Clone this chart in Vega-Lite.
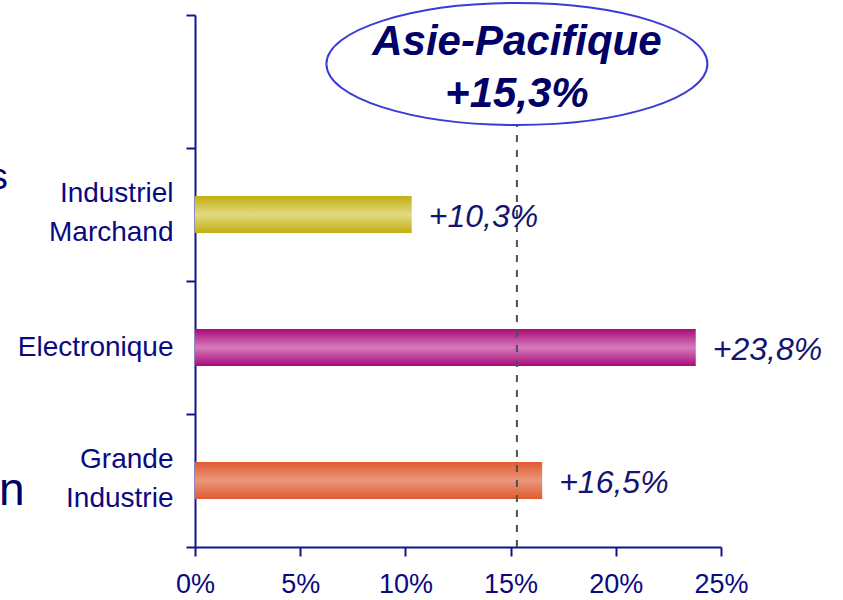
{
  "$schema": "https://vega.github.io/schema/vega-lite/v6.json",
  "width": 526,
  "height": 532,
  "autosize": {"type": "none"},
  "padding": {"left": 195, "top": 15, "right": 122, "bottom": 53},
  "background": "white",
  "config": {
    "view": {"stroke": null},
    "font": "Liberation Sans",
    "axisX": {
      "grid": false, "domainColor": "#14148a", "domainWidth": 2, "tickColor": "#14148a", "tickWidth": 2, "tickSize": 9,
      "labelFontSize": 27, "labelColor": "#0a0a80", "labelPadding": 15, "labelFont": "Liberation Sans", "labelFlush": false
    },
    "axisY": {
      "grid": false, "domainColor": "#14148a", "domainWidth": 2, "tickColor": "#14148a", "tickWidth": 2, "tickSize": 9,
      "labelFontSize": 28, "labelColor": "#0a0a80", "labelPadding": 13, "labelFont": "Liberation Sans", "labelLimit": 300,
      "labelLineHeight": 39, "labelAlign": "right", "labelBaseline": "middle", "tickBand": "extent"
    }
  },
  "datasets": {
    "bars": [
      {"segment": "Industriel Marchand", "growth": 10.3, "label": "+10,3%"},
      {"segment": "Electronique", "growth": 23.8, "label": "+23,8%"},
      {"segment": "Grande Industrie", "growth": 16.5, "label": "+16,5%"}
    ],
    "region": [
      {"segment": "top", "growth": 15.3, "label": "Asie-Pacifique\n+15,3%"}
    ],
    "cutS": [{"segment": "Industriel Marchand", "pos": -8.9, "label": "s"}],
    "cutN": [{"segment": "Grande Industrie", "pos": -8.1, "label": "n"}]
  },
  "layer": [
    {
      "data": {"name": "bars"},
      "transform": [{"filter": "datum.segment == 'Industriel Marchand'"}],
      "mark": {"type": "bar", "height": {"band": 0.28},
        "color": {"gradient": "linear", "x1": 0, "y1": 0, "x2": 0, "y2": 1,
          "stops": [{"offset": 0, "color": "#c2ae12"}, {"offset": 0.5, "color": "#e2da80"}, {"offset": 1, "color": "#c2ae12"}]}},
      "encoding": {
        "x": {"field": "growth", "type": "quantitative", "scale": {"domain": [0, 25], "nice": false},
          "axis": {"title": null, "values": [0, 5, 10, 15, 20, 25], "labelExpr": "datum.value + '%'"}},
        "y": {"field": "segment", "type": "nominal",
          "scale": {"domain": ["top", "Industriel Marchand", "Electronique", "Grande Industrie"], "paddingInner": 0, "paddingOuter": 0},
          "axis": {"title": null,
            "labelOffset": {"condition": {"test": "datum.value == 'Electronique'", "value": 0}, "value": -21.5},
            "labelExpr": "datum.value == 'Industriel Marchand' ? ['Industriel', 'Marchand'] : datum.value == 'Grande Industrie' ? ['Grande', 'Industrie'] : datum.value == 'top' ? '' : datum.value"}}
      }
    },
    {
      "data": {"name": "bars"},
      "transform": [{"filter": "datum.segment == 'Electronique'"}],
      "mark": {"type": "bar", "height": {"band": 0.28},
        "color": {"gradient": "linear", "x1": 0, "y1": 0, "x2": 0, "y2": 1,
          "stops": [{"offset": 0, "color": "#a80a78"}, {"offset": 0.5, "color": "#d67abc"}, {"offset": 1, "color": "#a80a78"}]}},
      "encoding": {
        "x": {"field": "growth", "type": "quantitative"},
        "y": {"field": "segment", "type": "nominal"}
      }
    },
    {
      "data": {"name": "bars"},
      "transform": [{"filter": "datum.segment == 'Grande Industrie'"}],
      "mark": {"type": "bar", "height": {"band": 0.28},
        "color": {"gradient": "linear", "x1": 0, "y1": 0, "x2": 0, "y2": 1,
          "stops": [{"offset": 0, "color": "#e05a30"}, {"offset": 0.5, "color": "#ea987c"}, {"offset": 1, "color": "#e05a30"}]}},
      "encoding": {
        "x": {"field": "growth", "type": "quantitative"},
        "y": {"field": "segment", "type": "nominal"}
      }
    },
    {
      "data": {"name": "region"},
      "mark": {"type": "rule", "color": "#505050", "strokeWidth": 2, "strokeDash": [7, 8], "y2Offset": 7},
      "encoding": {
        "x": {"field": "growth", "type": "quantitative"}
      }
    },
    {
      "data": {"name": "region"},
      "mark": {"type": "point", "shape": "M-1,0A1,0.32,0,1,1,1,0A1,0.32,0,1,1,-1,0Z", "size": 145161,
        "filled": true, "color": "white", "stroke": "#3a3ad8", "strokeWidth": 2, "opacity": 1, "yOffset": -17.5},
      "encoding": {
        "x": {"field": "growth", "type": "quantitative"},
        "y": {"field": "segment", "type": "nominal"}
      }
    },
    {
      "data": {"name": "region"},
      "mark": {"type": "text", "fontSize": 42, "fontWeight": "bold", "fontStyle": "italic", "color": "#000066",
        "lineBreak": "\n", "lineHeight": 52, "align": "center", "baseline": "middle", "dy": -40},
      "encoding": {
        "x": {"field": "growth", "type": "quantitative"},
        "y": {"field": "segment", "type": "nominal"},
        "text": {"field": "label"}
      }
    },
    {
      "data": {"name": "bars"},
      "mark": {"type": "text", "fontSize": 32, "fontStyle": "italic", "color": "#141470", "align": "left", "baseline": "middle", "dx": 17, "dy": 2},
      "encoding": {
        "x": {"field": "growth", "type": "quantitative"},
        "y": {"field": "segment", "type": "nominal"},
        "text": {"field": "label"}
      }
    },
    {
      "data": {"name": "cutS"},
      "mark": {"type": "text", "fontSize": 36, "color": "#000066", "align": "right", "baseline": "alphabetic", "dy": -25.5},
      "encoding": {
        "x": {"field": "pos", "type": "quantitative"},
        "y": {"field": "segment", "type": "nominal"},
        "text": {"field": "label"}
      }
    },
    {
      "data": {"name": "cutN"},
      "mark": {"type": "text", "fontSize": 46, "color": "#000066", "align": "right", "baseline": "alphabetic", "dy": 24},
      "encoding": {
        "x": {"field": "pos", "type": "quantitative"},
        "y": {"field": "segment", "type": "nominal"},
        "text": {"field": "label"}
      }
    }
  ]
}
